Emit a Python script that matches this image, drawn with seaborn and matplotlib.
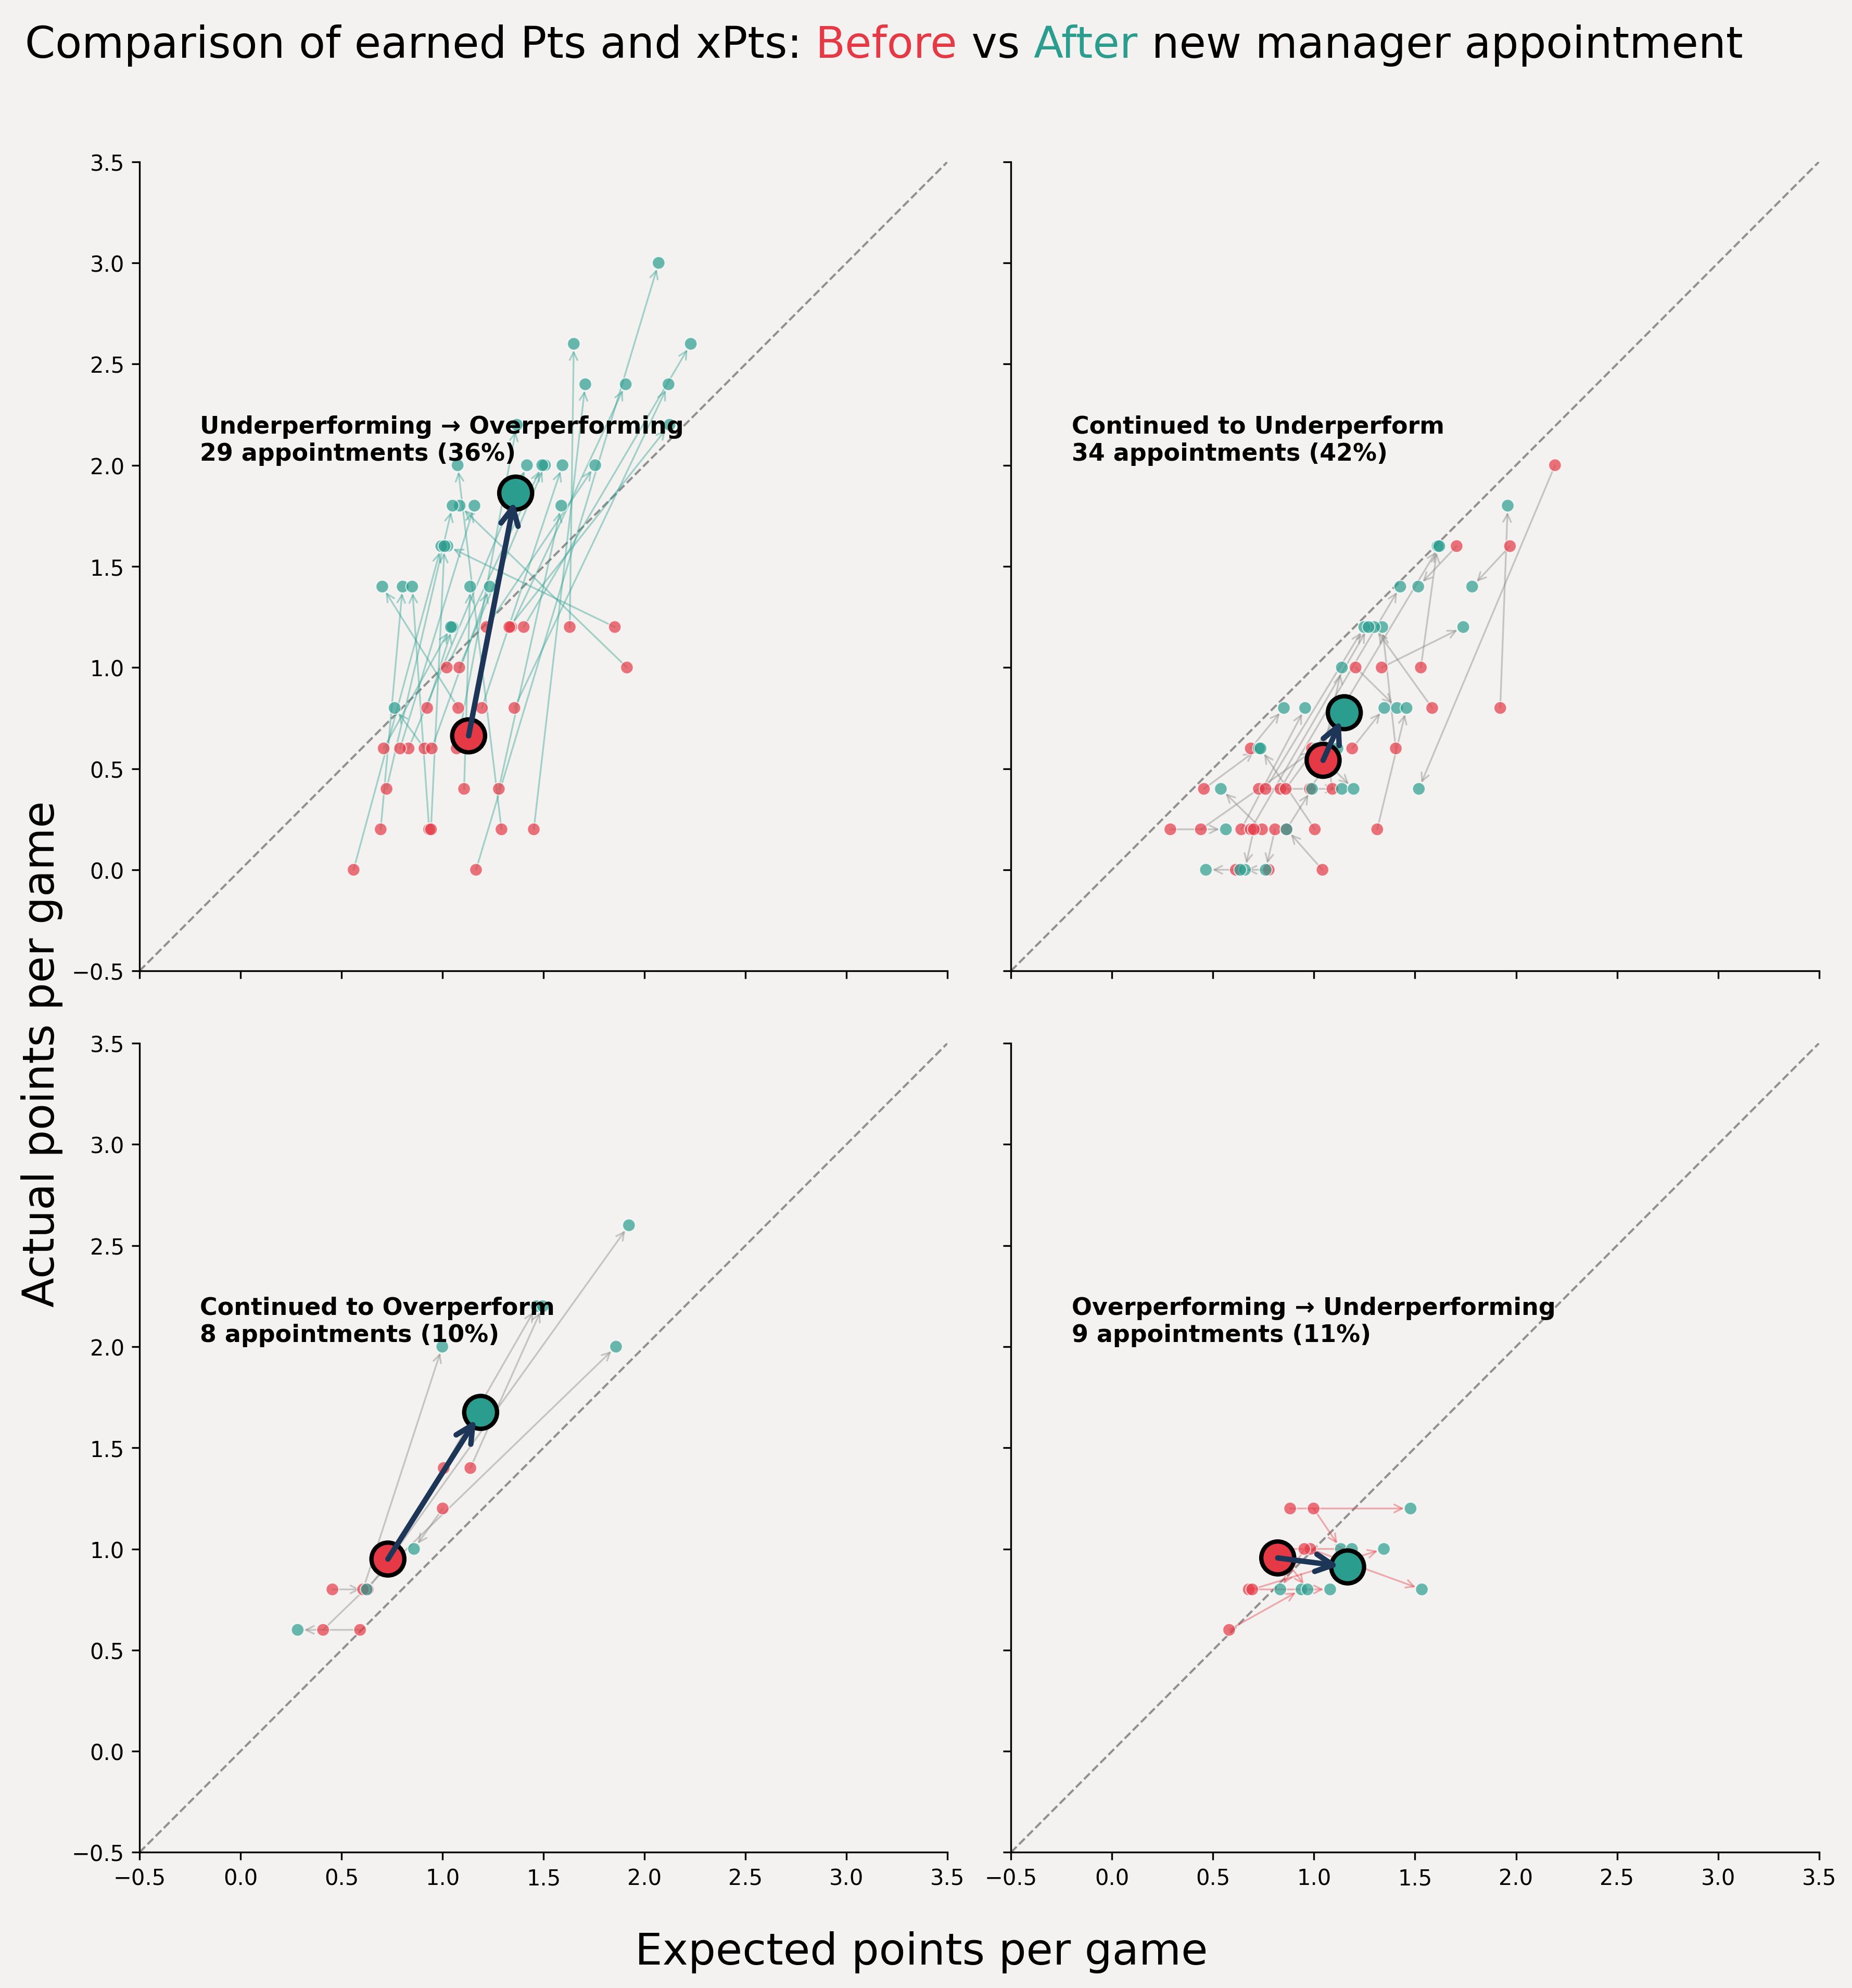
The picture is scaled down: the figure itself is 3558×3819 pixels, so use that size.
import matplotlib
matplotlib.use('Agg')
import matplotlib.pyplot as plt
import numpy as np
import pandas as pd
import seaborn as sns

RED = '#e63946'
TEAL = '#2a9d8f'
NAVY = '#1d3557'
BG = '#f3f2f0'

# ---------------- data (xPts / Pts per game, before -> after) ----------------
p1_label = 'Underperforming → Overperforming'
p1_before_x = [1.166, 1.630, 1.452, 1.853, 1.913, 0.694, 0.934, 0.911, 1.107, 1.078,
               0.924, 0.709, 1.356, 0.560, 1.292, 1.402, 1.340, 1.331, 1.218, 1.195,
               1.070, 1.083, 1.021, 1.279, 0.947, 0.832, 0.790, 0.723, 0.943]
p1_before_y = [0.0, 1.2, 0.2, 1.2, 1.0, 0.2, 0.2, 0.6, 0.4, 0.8,
               0.8, 0.6, 0.8, 0.0, 0.2, 1.2, 1.2, 1.2, 1.2, 0.8,
               0.6, 1.0, 1.0, 0.4, 0.6, 0.6, 0.6, 0.4, 0.2]
p1_after_x = [2.070, 1.650, 1.707, 1.024, 1.085, 0.803, 0.850, 0.763, 1.137, 0.702,
              1.050, 1.042, 2.119, 0.994, 1.075, 2.229, 1.907, 2.124, 1.756, 1.594,
              1.368, 1.507, 1.494, 1.588, 1.234, 1.418, 1.158, 1.050, 1.010]
p1_after_y = [3.0, 2.6, 2.4, 1.6, 1.8, 1.4, 1.4, 0.8, 1.4, 1.4,
              1.2, 1.2, 2.4, 1.6, 2.0, 2.6, 2.4, 2.2, 2.0, 2.0,
              2.2, 2.0, 2.0, 1.8, 1.4, 2.0, 1.8, 1.8, 1.6]

p2_label = 'Continued to Underperform'
p2_before_x = [2.193, 1.970, 1.922, 1.706, 1.529, 1.335, 1.206, 1.405, 1.585, 1.313,
               1.042, 0.289, 0.440, 0.455, 0.743, 0.613, 0.727, 1.004, 1.140, 0.687,
               1.189, 1.050, 0.990, 0.834, 1.091, 0.760, 0.860, 0.980, 0.640, 0.687,
               0.702, 0.807, 0.864, 0.776]
p2_before_y = [2.0, 1.6, 0.8, 1.6, 1.0, 1.0, 1.0, 0.6, 0.8, 0.2,
               0.0, 0.2, 0.2, 0.4, 0.2, 0.0, 0.4, 0.2, 0.8, 0.6,
               0.6, 0.6, 0.6, 0.4, 0.4, 0.4, 0.4, 0.4, 0.2, 0.2,
               0.2, 0.2, 0.2, 0.0]
p2_after_x = [1.519, 1.783, 1.959, 1.516, 1.612, 1.739, 1.411, 1.338, 1.298, 1.458,
              0.864, 0.564, 1.013, 0.727, 0.539, 0.465, 1.138, 0.735, 1.620, 0.851,
              1.348, 1.138, 1.196, 1.427, 1.060, 1.249, 1.150, 1.116, 0.956, 1.270,
              0.658, 0.761, 0.990, 0.635]
p2_after_y = [0.4, 1.4, 1.8, 1.4, 1.6, 1.2, 0.8, 1.2, 1.2, 0.8,
              0.2, 0.2, 0.6, 0.6, 0.4, 0.0, 0.4, 0.6, 1.6, 0.8,
              0.8, 1.0, 0.4, 1.4, 0.6, 1.2, 0.8, 0.6, 0.8, 1.2,
              0.0, 0.0, 0.4, 0.0]

p3_label = 'Continued to Overperform'
p3_before_x = [0.455, 0.592, 0.409, 0.631, 0.607, 1.006, 1.138, 1.001]
p3_before_y = [0.8, 0.6, 0.6, 0.8, 0.8, 1.4, 1.4, 1.2]
p3_after_x = [0.625, 0.283, 1.859, 1.923, 0.999, 1.466, 1.497, 0.859]
p3_after_y = [0.8, 0.6, 2.0, 2.6, 2.0, 2.2, 2.2, 1.0]

p4_label = 'Overperforming → Underperforming'
p4_before_x = [0.882, 0.998, 0.580, 0.677, 0.694, 0.982, 0.952, 0.800, 0.820]
p4_before_y = [1.2, 1.2, 0.6, 0.8, 0.8, 1.0, 1.0, 1.0, 1.0]
p4_after_x = [1.478, 1.133, 0.938, 1.080, 1.346, 1.534, 0.833, 1.188, 0.968]
p4_after_y = [1.2, 1.0, 0.8, 0.8, 1.0, 0.8, 0.8, 1.0, 0.8]

tick_values = [-0.5, 0.0, 0.5, 1.0, 1.5, 2.0, 2.5, 3.0, 3.5]

panels = [
    (p1_label, p1_before_x, p1_before_y, p1_after_x, p1_after_y, TEAL),
    (p2_label, p2_before_x, p2_before_y, p2_after_x, p2_after_y, 'gray'),
    (p3_label, p3_before_x, p3_before_y, p3_after_x, p3_after_y, 'gray'),
    (p4_label, p4_before_x, p4_before_y, p4_after_x, p4_after_y, RED),
]
total = sum(len(p[1]) for p in panels)

# ---------------- style ----------------
sns.set_style('ticks', rc={
    'axes.facecolor': BG, 'figure.facecolor': BG,
    'axes.edgecolor': 'black', 'xtick.color': 'black', 'ytick.color': 'black',
    'text.color': 'black', 'axes.labelcolor': 'black',
})
plt.rcParams['font.family'] = ['DejaVu Sans']

fig, axes = plt.subplots(2, 2, figsize=(3558 / 300, 3820 / 300), dpi=300,
                         sharex=True, sharey=True)
fig.subplots_adjust(left=0.0753, right=0.9822, top=0.9184, bottom=0.0682,
                    wspace=0.0785, hspace=0.0893)

palette = {'Before': RED, 'After': TEAL}

for ax, (label, bx, by, axx, ayy, acol) in zip(axes.flat, panels):
    n = len(bx)
    ax.set_facecolor(BG)
    ax.plot([-0.5, 3.5], [-0.5, 3.5], ls='--', color='gray', lw=1, alpha=0.85, zorder=0)
    for x0, y0, x1, y1 in zip(bx, by, axx, ayy):
        ax.annotate('', xy=(x1, y1), xytext=(x0, y0),
                    arrowprops=dict(arrowstyle='->', color=acol, alpha=0.4, lw=0.8,
                                    shrinkA=0, shrinkB=3, mutation_scale=9),
                    zorder=1)
    df = pd.DataFrame({'x': list(bx) + list(axx), 'y': list(by) + list(ayy),
                       'phase': ['Before'] * n + ['After'] * n})
    sns.scatterplot(data=df, x='x', y='y', hue='phase', palette=palette, s=34,
                    alpha=0.7, edgecolor='white', linewidth=0.5, legend=False,
                    ax=ax, zorder=2)
    means = df.groupby('phase', sort=False)[['x', 'y']].mean().reset_index()
    sns.scatterplot(data=means, x='x', y='y', hue='phase', palette=palette, s=230,
                    edgecolor='black', linewidth=2, alpha=1, legend=False, ax=ax,
                    zorder=4)
    m = means.set_index('phase')
    ax.annotate('', xy=(m.loc['After', 'x'], m.loc['After', 'y']),
                xytext=(m.loc['Before', 'x'], m.loc['Before', 'y']),
                arrowprops=dict(arrowstyle='->', color=NAVY, lw=2.5, mutation_scale=20,
                                shrinkA=0, shrinkB=4, capstyle='round'),
                zorder=5)
    ax.text(-0.2, 2.0, f"{label}\n{n} appointments ({n / total * 100:.0f}%)",
            fontsize=11, fontweight='bold', ha='left', va='bottom', zorder=6)
    ax.set_xlim(-0.5, 3.5)
    ax.set_ylim(-0.5, 3.5)
    ax.set_xticks(tick_values)
    ax.set_yticks(tick_values)
    ax.set_xlabel('')
    ax.set_ylabel('')
    ax.tick_params(labelsize=10, length=3.5, width=0.8)
    sns.despine(ax=ax)

# axis labels
fig.text(0.4976, 0.012, 'Expected points per game', fontsize=20, ha='center', va='baseline')
fig.text(0.0226, 0.470, 'Actual points per game', fontsize=20, ha='center', va='center',
         rotation=90)

# multi-coloured title
renderer = fig.canvas.get_renderer()
pieces = [('Comparison of earned Pts and xPts: ', 'black'), ('Before', RED),
          (' vs ', 'black'), ('After', TEAL), (' new manager appointment', 'black')]
x = 0.0135
for txt, col in pieces:
    t = fig.text(x, 0.971, txt, fontsize=20, color=col, ha='left', va='baseline')
    bb = t.get_window_extent(renderer=renderer)
    x += bb.width / fig.bbox.width

fig.savefig('out.png', dpi=300, facecolor=BG)
